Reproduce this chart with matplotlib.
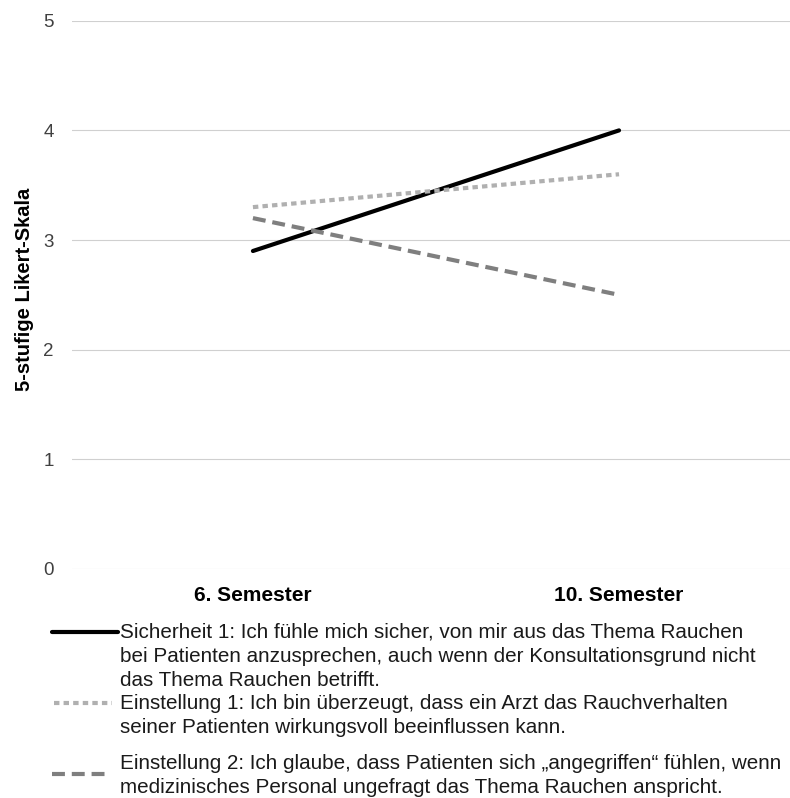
import matplotlib
matplotlib.use("Agg")
import matplotlib.pyplot as plt
from matplotlib.lines import Line2D

plt.rcParams['font.family'] = ['Liberation Sans', 'DejaVu Sans']

categories = ["6. Semester", "10. Semester"]
sicherheit1 = [2.9, 4.0]
einstellung1 = [3.3, 3.6]
einstellung2 = [3.2, 2.5]
labels = [
    "Sicherheit 1: Ich fühle mich sicher, von mir aus das Thema Rauchen\nbei Patienten anzusprechen, auch wenn der Konsultationsgrund nicht\ndas Thema Rauchen betrifft.",
    "Einstellung 1: Ich bin überzeugt, dass ein Arzt das Rauchverhalten\nseiner Patienten wirkungsvoll beeinflussen kann.",
    "Einstellung 2: Ich glaube, dass Patienten sich \u201eangegriffen\u201c fühlen, wenn\nmedizinisches Personal ungefragt das Thema Rauchen anspricht.",
]
yticks = [0, 1, 2, 3, 4, 5]

fig = plt.figure(figsize=(7.9, 7.98), dpi=100)
ax = fig.add_axes([0.091, 0.287, 0.909, 0.687])

x = [0, 1]
styles = [
    dict(color="black", lw=3.0, ls="-", solid_capstyle="round"),
    dict(color="#b0b0b0", lw=3.0, ls=(0, (1.3, 1.0))),
    dict(color="#7f7f7f", lw=3.0, ls=(0, (3.1, 1.65))),
]
series = [sicherheit1, einstellung1, einstellung2]
for s, st in zip(series, styles):
    ax.plot(x, s, **st)

ax.set_xlim(-0.4945, 1.467)
ax.set_ylim(0, 5)
ax.set_yticks(yticks)
ax.set_yticklabels([str(v) for v in yticks], fontsize=13.5, color="#404040")
ax.set_xticks(x)
ax.set_xticklabels(categories, fontsize=15, fontweight="bold")
ax.tick_params(axis="x", length=0, pad=12)
ax.tick_params(axis="y", length=0, pad=13)
ax.grid(axis="y", color="#d0d0d0", lw=0.8)
for sp in ax.spines.values():
    sp.set_visible(False)
ax.set_ylabel("5-stufige Likert-Skala", fontsize=14.5, fontweight="bold")
ax.yaxis.set_label_coords(-0.053, 0.51)

# legend drawn manually
W, H = 790, 798
handle_y = [632, 703, 774]
handle_x = [(52, 118), (54, 112), (52, 110)]
text_top = [623, 694, 754]
for lab, st, hy, hx, tt in zip(labels, styles, handle_y, handle_x, text_top):
    fy = 1 - hy / H
    ln = Line2D([hx[0] / W, hx[1] / W], [fy, fy], transform=fig.transFigure, **st)
    fig.add_artist(ln)
    fig.text(120 / W, 1 - tt / H, lab, fontsize=14.85, va="top", ha="left",
             linespacing=1.32, color="#1a1a1a")

fig.savefig("out.png", dpi=100)
